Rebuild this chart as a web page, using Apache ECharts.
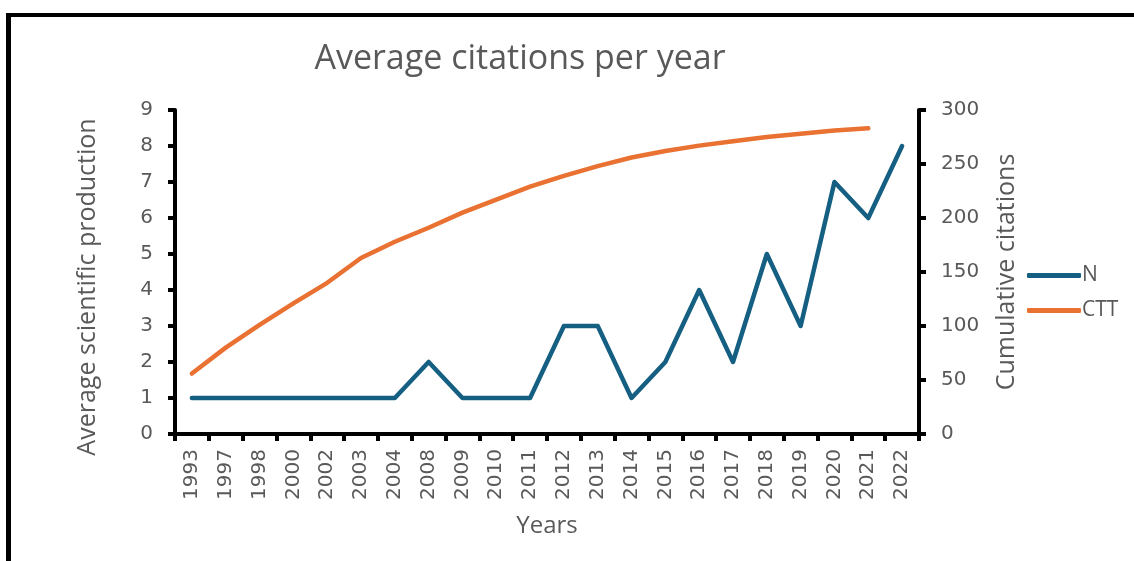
<!DOCTYPE html>
<html>
<head>
<meta charset="utf-8">
<script src="https://cdn.jsdelivr.net/npm/echarts@6/dist/echarts.min.js"></script>
<style>
  html, body { margin: 0; padding: 0; background: #fff; }
  #frame { position: absolute; left: 6px; top: 13px; width: 1200px; height: 600px;
           border-left: 5px solid #000; border-top: 4px solid #000; }
  #main { position: absolute; left: 0; top: 0; width: 1134px; height: 561px; }
</style>
</head>
<body>
<div id="frame"></div>
<div id="main"></div>
<script>
var years = ['1993', '1997', '1998', '2000', '2002', '2003', '2004', '2008', '2009', '2010', '2011',
    '2012', '2013', '2014', '2015', '2016', '2017', '2018', '2019', '2020', '2021', '2022'];
// average scientific production
var nValues = [1, 1, 1, 1, 1, 1, 1, 2, 1, 1, 1, 3, 3, 1, 2, 4, 2, 5, 3, 7, 6, 8];
// cumulative citations (no value for 2022)
var cttValues = [56, 80, 101, 121, 140, 163, 178, 191, 205, 217, 229, 239, 248, 256, 262, 267, 271, 275, 278, 281, 283, null];

var gray = '#595959';
var fontFam = '"Open Sans", "Liberation Sans", Arial, sans-serif';
var numFam = '"DejaVu Sans", sans-serif';

var chart = echarts.init(document.getElementById('main'));

var axisLineStyle = {show: true, lineStyle: {color: '#000', width: 4}};
var tickStyle = {show: true, length: 7, lineStyle: {color: '#000', width: 4}};

chart.setOption({
    animation: false,
    textStyle: {fontFamily: fontFam},
    title: {
        text: 'Average citations per year',
        left: 515,
        top: 37,
        textAlign: 'center',
        textStyle: {color: gray, fontSize: 34, fontWeight: 'normal', fontFamily: fontFam}
    },
    legend: {
        orient: 'vertical',
        left: 1022,
        top: 260,
        icon: 'roundRect',
        itemWidth: 54,
        itemHeight: 5,
        itemGap: 14,
        textStyle: {color: gray, fontSize: 21, fontFamily: fontFam, padding: [0, 0, 0, -4]},
        data: ['N', 'CTT']
    },
    grid: {left: 175, right: 215, top: 110, bottom: 127, containLabel: false},
    xAxis: {
        type: 'category',
        data: years,
        boundaryGap: true,
        name: 'Years',
        nameLocation: 'middle',
        nameGap: 80,
        nameTextStyle: {color: gray, fontSize: 24, fontFamily: fontFam},
        axisLine: axisLineStyle,
        axisTick: tickStyle,
        splitLine: {show: false},
        axisLabel: {rotate: 90, color: gray, fontSize: 20, fontFamily: numFam, margin: 15, interval: 0}
    },
    yAxis: [
        {
            type: 'value',
            min: 0, max: 9, interval: 1,
            position: 'left',
            name: 'Average scientific production',
            nameLocation: 'middle',
            nameGap: 75,
            nameRotate: 90,
            nameTextStyle: {color: gray, fontSize: 25, fontFamily: fontFam, padding: [0, 30, 0, 0]},
            axisLine: axisLineStyle,
            axisTick: tickStyle,
            splitLine: {show: false},
            axisLabel: {color: gray, fontSize: 20, fontFamily: numFam, margin: 22}
        },
        {
            type: 'value',
            min: 0, max: 300, interval: 50,
            position: 'right',
            name: 'Cumulative citations',
            nameLocation: 'middle',
            nameGap: 75,
            nameRotate: 90,
            nameTextStyle: {color: gray, fontSize: 25, fontFamily: fontFam},
            axisLine: axisLineStyle,
            axisTick: tickStyle,
            splitLine: {show: false},
            axisLabel: {color: gray, fontSize: 20, fontFamily: numFam, margin: 22}
        }
    ],
    series: [
        {
            name: 'N',
            type: 'line',
            yAxisIndex: 0,
            data: nValues,
            symbol: 'none',
            color: '#156082',
            lineStyle: {width: 4.5, color: '#156082', cap: 'round', join: 'round'}
        },
        {
            name: 'CTT',
            type: 'line',
            yAxisIndex: 1,
            data: cttValues,
            symbol: 'none',
            color: '#E97132',
            lineStyle: {width: 4.5, color: '#E97132', cap: 'round', join: 'round'}
        }
    ]
});
</script>
</body>
</html>
